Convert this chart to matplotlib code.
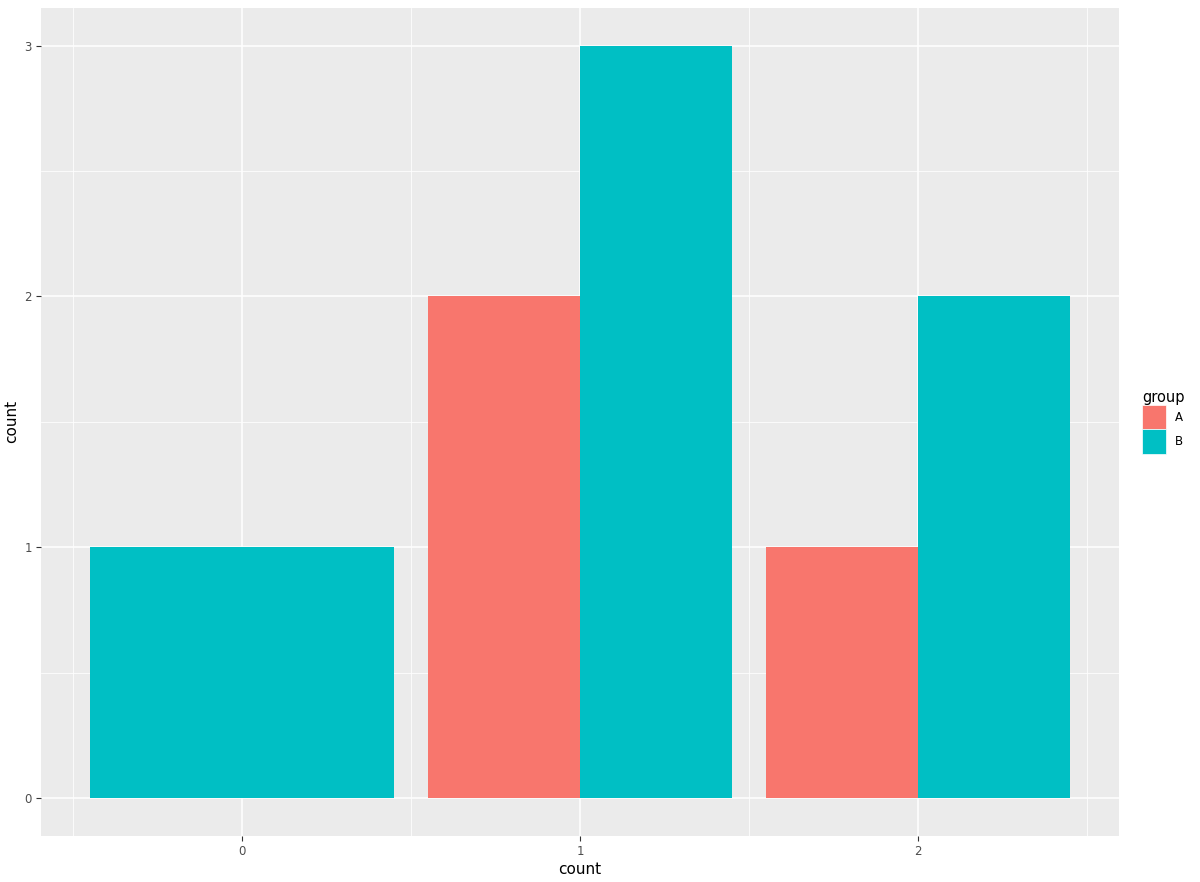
import numpy as np
import matplotlib
matplotlib.use("Agg")
import matplotlib.pyplot as plt
from matplotlib.patches import Patch

# data
x_vals = [0, 1, 2]
count_a = [0, 2, 1]   # group A has no bar at x=0
count_b = [1, 3, 2]
groups = ["A", "B"]
colors = ["#F8766D", "#00BFC4"]

fig = plt.figure(figsize=(12, 8.82), dpi=100)
ax = fig.add_axes([41/1200, 1 - 835.5/882, (1119-41)/1200, (835.5-8)/882])
ax.set_facecolor("#EBEBEB")

width = 0.9
for xv, a, b in zip(x_vals, count_a, count_b):
    if a == 0:
        ax.bar(xv, b, width=width, color=colors[1], zorder=3)
    else:
        ax.bar(xv - width/4, a, width=width/2, color=colors[0], zorder=3)
        ax.bar(xv + width/4, b, width=width/2, color=colors[1], zorder=3)

ax.set_xlim(-0.595, 2.595)
ax.set_ylim(-0.15, 3.15)
ax.set_xticks(x_vals)
ax.set_xticklabels([str(v) for v in x_vals])
ax.set_yticks([0, 1, 2, 3])
ax.set_xticks([-0.5, 0.5, 1.5, 2.5], minor=True)
ax.set_yticks([0.5, 1.5, 2.5], minor=True)

ax.grid(which="major", color="white", linewidth=1.1, zorder=0)
ax.grid(which="minor", color="white", linewidth=0.55, zorder=0)
ax.set_axisbelow(True)
for s in ax.spines.values():
    s.set_visible(False)
ax.tick_params(which="major", length=3.5, width=0.8, color="#333333",
               labelcolor="#4D4D4D", labelsize=8.5, pad=3)
ax.tick_params(which="minor", length=0)

ax.set_xlabel("count", fontsize=11, labelpad=3)
ax.set_ylabel("count", fontsize=11, labelpad=4)

handles = [Patch(facecolor=c, edgecolor="white", linewidth=0.5, label=g)
           for g, c in zip(groups, colors)]
leg = fig.legend(handles=handles, title="group", loc="center left",
                 bbox_to_anchor=(1142/1200, 1 - 422/882), frameon=False,
                 fontsize=8.5, title_fontsize=10.5, handlelength=2.0, handleheight=2.8,
                 handletextpad=0.8, labelspacing=0.0, borderaxespad=0, borderpad=0)
leg._legend_box.align = "left"

fig.savefig("out.png", dpi=100)
